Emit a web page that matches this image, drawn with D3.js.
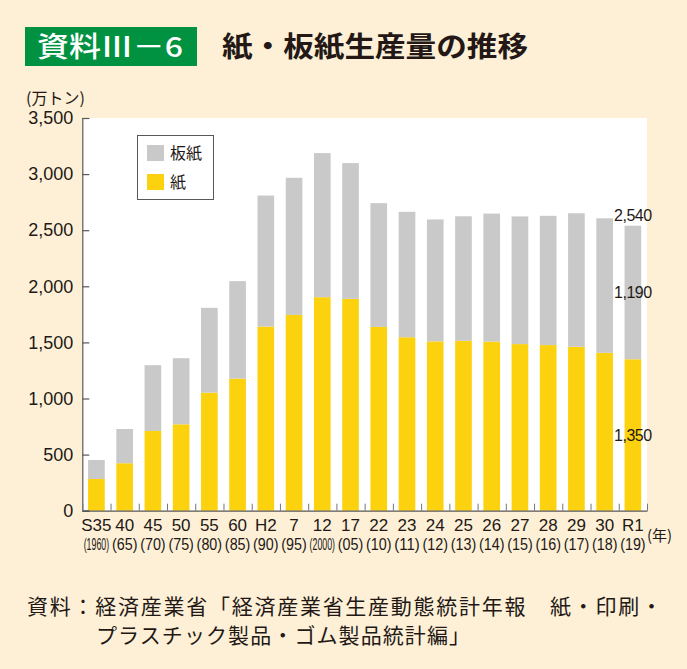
<!DOCTYPE html>
<html><head><meta charset="utf-8">
<script src="https://cdn.jsdelivr.net/npm/d3@7"></script>
<style>
html,body{margin:0;padding:0;background:#FDF0D7;}
svg{display:block;}
text{font-family:"Liberation Sans","Noto Sans CJK JP",sans-serif;fill:#231815;}
.jp{font-family:"Noto Sans CJK JP",sans-serif;}
</style></head><body>
<svg id="c" width="687" height="669"></svg>
<script>
const eraLabels = ["S35","40","45","50","55","60","H2","7","12","17","22","23","24","25","26","27","28","29","30","R1"];
const yearLabels = ["(1960)","(65)","(70)","(75)","(80)","(85)","(90)","(95)","(2000)","(05)","(10)","(11)","(12)","(13)","(14)","(15)","(16)","(17)","(18)","(19)"];
const paper = [283,423,711,770,1052,1177,1641,1745,1903,1888,1638,1546,1509,1514,1507,1485,1476,1461,1407,1350];
const paperboard = [169,305,586,589,756,869,1168,1222,1284,1210,1103,1118,1087,1110,1141,1138,1152,1190,1199,1190];
const yTicks = [0,500,1000,1500,2000,2500,3000,3500];
const seriesNames = ["板紙","紙"];
const lastLabels = ["2,540","1,190","1,350"];

const svg = d3.select("#c");
const W = 687, H = 669;
svg.append("rect").attr("width",W).attr("height",H).attr("fill","#FDF0D7");

const L = 82.3, R = 647, T = 118, B = 510.7;
const idx = d3.range(paper.length);
const x = d3.scaleBand().domain(idx).range([L,R]).paddingInner(0.41).paddingOuter(0.205);
const xb = d3.scaleLinear().domain([0,paper.length]).range([L,R]);
const y = d3.scaleLinear().domain([0,3500]).range([B,T]);

// plot background
svg.append("rect").attr("x",L).attr("y",T).attr("width",R-L).attr("height",B-T).attr("fill","#fff");

// title
svg.append("rect").attr("x",25).attr("y",27).attr("width",172).attr("height",39).attr("fill","#009241");
svg.append("text").attr("class","jp").attr("x",37).attr("y",57).attr("font-size",28).attr("font-weight",500)
  .style("fill","#fff").attr("textLength",146).attr("lengthAdjust","spacingAndGlyphs").text("資料Ⅲ－6");
svg.append("text").attr("class","jp").attr("x",222).attr("y",57).attr("font-size",28).attr("font-weight",700)
  .attr("textLength",306).attr("lengthAdjust","spacingAndGlyphs").text("紙・板紙生産量の推移");

// unit label
svg.append("text").attr("class","jp").attr("x",26).attr("y",104).attr("font-size",16).text("(万トン)");

// bars
const stackData = idx.map(i => ({i, paper: paper[i], board: paperboard[i]}));
const stack = d3.stack().keys(["paper","board"])(stackData);
const colors = {paper:"#FCD20F", board:"#C9C9C9"};
svg.append("g").selectAll("g").data(stack).join("g").attr("fill", d => colors[d.key])
  .selectAll("rect").data(d => d).join("rect")
  .attr("x", d => x(d.data.i)).attr("width", x.bandwidth())
  .attr("y", d => y(d[1])).attr("height", d => y(d[0]) - y(d[1]));

// y axis
const yAxis = svg.append("g").attr("transform",`translate(${L},0)`)
  .call(d3.axisLeft(y).tickValues(yTicks).tickSize(-7).tickPadding(9).tickFormat(d3.format(",")));
yAxis.select(".domain").attr("stroke","#595757").attr("stroke-width",1.2);
yAxis.selectAll(".tick line").attr("stroke","#595757").attr("stroke-width",1.2);
yAxis.selectAll(".tick text").attr("font-size",18).attr("font-family","Liberation Sans, sans-serif").style("fill","#231815");

// x axis
const xAxis = svg.append("g").attr("transform",`translate(0,${B})`)
  .call(d3.axisBottom(xb).tickValues(d3.range(paper.length+1)).tickSize(-7).tickSizeOuter(0).tickFormat(""));
xAxis.select(".domain").attr("stroke","#595757").attr("stroke-width",1.2);
xAxis.selectAll(".tick line").attr("stroke","#777").attr("stroke-width",1);

// x labels
svg.append("g").selectAll("text").data(idx).join("text")
  .attr("x", i => x(i) + x.bandwidth()/2).attr("y", 531).attr("text-anchor","middle").attr("font-size",17)
  .text(i => eraLabels[i]);
svg.append("g").selectAll("text").data(idx).join("text")
  .attr("text-anchor","middle").attr("font-size",17)
  .text(i => yearLabels[i])
  .each(function(i){
    const w = this.getComputedTextLength();
    const sx = 25.5 / w;
    d3.select(this).attr("transform",`translate(${x(i) + x.bandwidth()/2},550) scale(${sx},1)`);
  });
svg.append("text").attr("class","jp").attr("x",647).attr("y",541).attr("font-size",15).text("(年)");

// last bar labels
const li = paper.length-1;
const cx = x(li) + x.bandwidth()/2;
const lastY = [y(paper[li]+paperboard[li]) - 10, (y(paper[li]+paperboard[li]) + y(paper[li]))/2, (y(paper[li]) + y(0))/2];
lastLabels.forEach((t,k) => {
  svg.append("text").attr("x",cx).attr("y",lastY[k]).attr("dy","0.36em").attr("text-anchor","middle")
    .attr("font-size",16).attr("letter-spacing",-0.5).text(t);
});

// legend
const lg = svg.append("g");
lg.append("rect").attr("x",137.5).attr("y",135.5).attr("width",76).attr("height",64).attr("fill","#fff").attr("stroke","#595757").attr("stroke-width",1);
[["board",145],["paper",174]].forEach(([k,yy],j) => {
  lg.append("rect").attr("x",147).attr("y",yy).attr("width",17).attr("height",16).attr("fill",colors[k]);
  lg.append("text").attr("class","jp").attr("x",170).attr("y",yy+8).attr("dy","0.36em").attr("font-size",16).text(seriesNames[j]);
});

// source
svg.append("text").attr("class","jp").attr("x",27).attr("y",614).attr("font-size",21)
  .attr("textLength",635).attr("lengthAdjust","spacing")
  .text("資料：経済産業省「経済産業省生産動態統計年報　紙・印刷・");
svg.append("text").attr("class","jp").attr("x",96).attr("y",643).attr("font-size",21)
  .attr("textLength",374).attr("lengthAdjust","spacing")
  .text("プラスチック製品・ゴム製品統計編」");
</script>
</body></html>
